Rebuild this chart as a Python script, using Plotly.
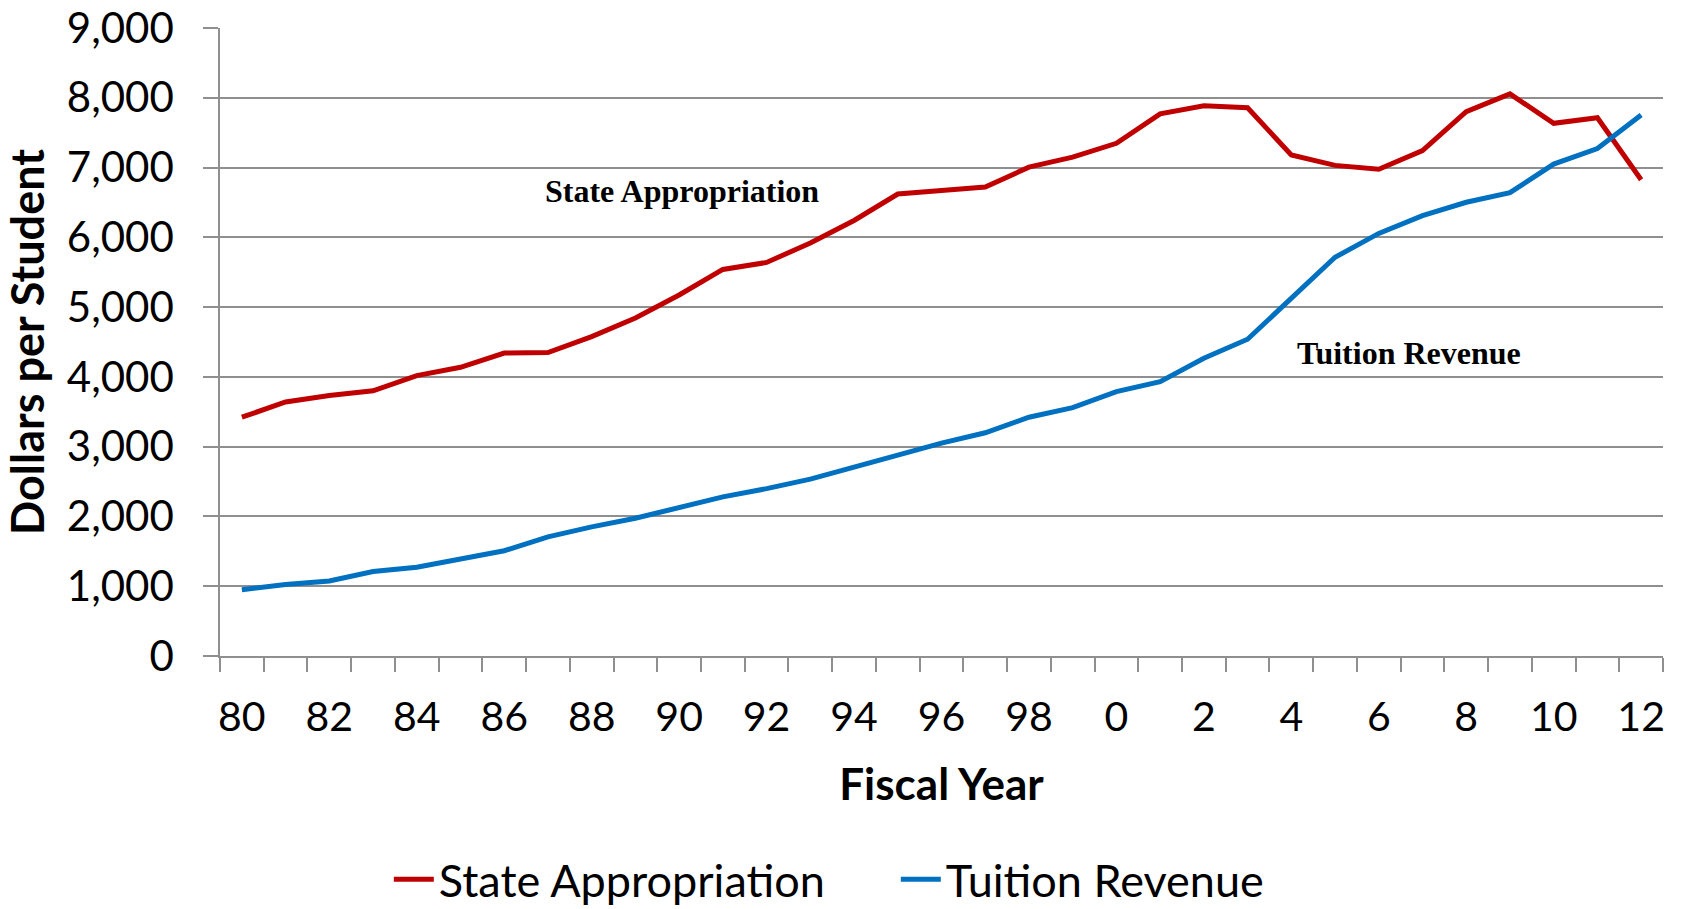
import plotly.graph_objects as go

years = list(range(1980, 2013))
state_appropriation = [3422, 3640, 3733, 3801, 4019, 4137, 4342, 4348, 4578, 4845,
                       5174, 5540, 5640, 5919, 6242, 6621, 6671, 6720, 7006, 7149,
                       7348, 7770, 7885, 7857, 7180, 7031, 6975, 7242, 7801, 8056,
                       7634, 7714, 6826]
tuition_revenue = [950, 1025, 1075, 1211, 1273, 1385, 1509, 1708, 1851, 1975,
                   2130, 2280, 2398, 2534, 2708, 2882, 3050, 3199, 3422, 3559,
                   3789, 3932, 4267, 4540, 5124, 5714, 6056, 6311, 6503, 6640,
                   7050, 7273, 7752]
tick_years = list(range(1980, 2013, 2))
tick_labels = [str(y % 100) for y in tick_years]

RED = "#C00000"
BLUE = "#0070C0"
GRID = "#8F8F8F"
FONT = "Lato"

fig = go.Figure()
fig.add_trace(go.Scatter(x=years, y=state_appropriation, mode="lines",
                         name="State Appropriation", line=dict(color=RED, width=5)))
fig.add_trace(go.Scatter(x=years, y=tuition_revenue, mode="lines",
                         name="Tuition Revenue", line=dict(color=BLUE, width=5)))

fig.add_annotation(x=1990.07, y=6664, text="<b>State Appropriation</b>", showarrow=False,
                   font=dict(family="Liberation Serif", size=32, color="black"))
fig.add_annotation(x=2006.7, y=4344, text="<b>Tuition Revenue</b>", showarrow=False,
                   font=dict(family="Liberation Serif", size=32, color="black"))

fig.update_layout(
    width=1682, height=909,
    margin=dict(l=220, r=19, t=28, b=253, autoexpand=False),
    paper_bgcolor="white", plot_bgcolor="white",
    font=dict(family=FONT, size=42, color="black"),
    showlegend=True,
    legend=dict(orientation="h", x=0.117, xanchor="left", y=-0.356, yanchor="middle",
                font=dict(family=FONT, size=45, color="black"), itemwidth=40,
                entrywidth=452, entrywidthmode="pixels",
                traceorder="normal"),
    xaxis=dict(
        range=[1979.5, 2012.5], showgrid=False, zeroline=False,
        showline=True, linecolor=GRID, linewidth=1.5, automargin=False,
        tickmode="array", tickvals=tick_years, ticktext=tick_labels,
        ticks="", ticklabelstandoff=24,
        minor=dict(ticks="outside", ticklen=14, tickcolor=GRID, tickwidth=1.5,
                   tick0=1979.5, dtick=1, showgrid=False),
        title=dict(text="<b>Fiscal Year</b>", font=dict(family=FONT, size=44), standoff=30),
        tickfont=dict(family=FONT, size=41),
    ),
    yaxis=dict(
        range=[0, 9000], dtick=1000, tick0=0, tickformat=",",
        showgrid=True, gridcolor=GRID, gridwidth=1.5, zeroline=False,
        showline=True, linecolor=GRID, linewidth=1.5, automargin=False,
        ticks="outside", ticklen=15, tickcolor=GRID, tickwidth=1.5,
        ticklabelstandoff=21,
        title=dict(text="<b>Dollars per Student</b>", font=dict(family=FONT, size=45), standoff=12),
        tickfont=dict(family=FONT, size=42),
    ),
)

fig.write_html("out.html", config={"displayModeBar": False},
               post_script="document.body.style.margin='0';document.body.style.overflow='hidden';")
